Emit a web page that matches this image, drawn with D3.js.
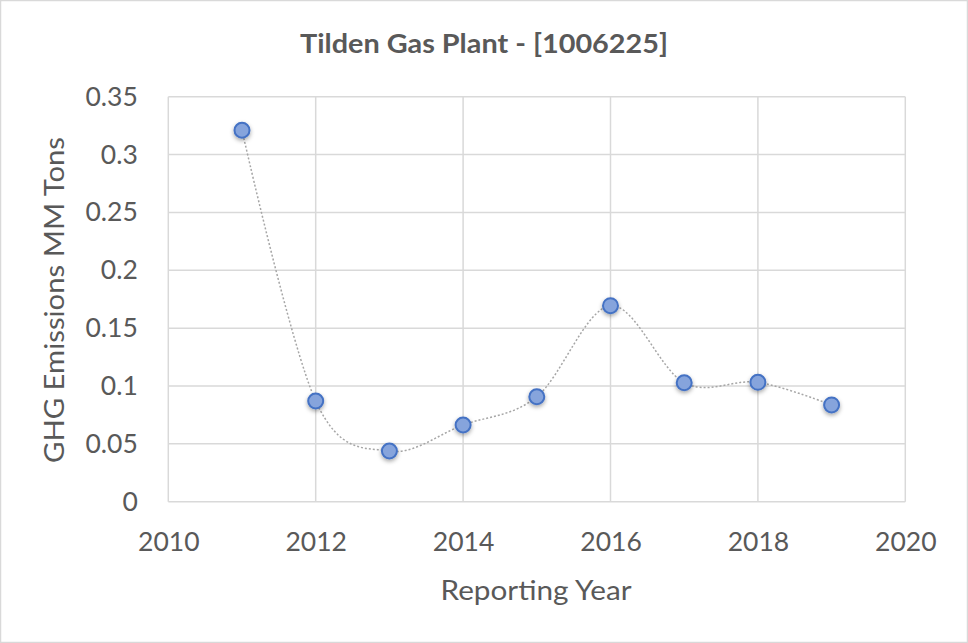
<!DOCTYPE html>
<html><head><meta charset="utf-8">
<script src="https://cdn.jsdelivr.net/npm/d3@7"></script>
<style>body{margin:0;background:#fff;} svg{display:block;}</style>
</head><body>
<svg id="c" width="968" height="643"></svg>
<script>
const years = [2011, 2012, 2013, 2014, 2015, 2016, 2017, 2018, 2019];
const emissions = [0.321, 0.087, 0.0438, 0.0663, 0.0907, 0.1694, 0.1028, 0.1032, 0.0836];
const xTicks = [2010, 2012, 2014, 2016, 2018, 2020];
const yTicks = [0, 0.05, 0.1, 0.15, 0.2, 0.25, 0.3, 0.35];
const title = "Tilden Gas Plant - [1006225]";
const xTitle = "Reporting Year";
const yTitle = "GHG Emissions MM Tons";

const W = 968, H = 643;
const m = {left: 168.3, right: 905.3, top: 96.7, bottom: 501.7};
const svg = d3.select("#c");
const font = "Lato, 'Open Sans', sans-serif";
const textCol = "#595959", gridCol = "#d9d9d9";

svg.append("rect").attr("x", 0.5).attr("y", 0.5).attr("width", W - 1).attr("height", H - 1)
  .attr("fill", "#fff").attr("stroke", "#d9d9d9").attr("stroke-width", 1.5);

const x = d3.scaleLinear().domain([2010, 2020]).range([m.left, m.right]);
const y = d3.scaleLinear().domain([0, 0.35]).range([m.bottom, m.top]);

const defs = svg.append("defs");
const f = defs.append("filter").attr("id", "sh").attr("x", "-50%").attr("y", "-50%").attr("width", "200%").attr("height", "200%");
f.append("feDropShadow").attr("dx", 0).attr("dy", 2).attr("stdDeviation", 2).attr("flood-color", "#000").attr("flood-opacity", 0.35);

// gridlines
const g = svg.append("g");
g.selectAll(".h").data(yTicks).join("line")
  .attr("x1", m.left).attr("x2", m.right).attr("y1", d => y(d)).attr("y2", d => y(d))
  .attr("stroke", gridCol).attr("stroke-width", 1.5);
g.selectAll(".v").data(xTicks).join("line")
  .attr("y1", m.top).attr("y2", m.bottom).attr("x1", d => x(d)).attr("x2", d => x(d))
  .attr("stroke", gridCol).attr("stroke-width", 1.5);

// axes labels via d3 axes
const yAxis = svg.append("g").attr("transform", `translate(${m.left},0)`)
  .call(d3.axisLeft(y).tickValues(yTicks).tickSize(0).tickPadding(30.5).tickFormat(d => d3.format("")(+d.toFixed(2))));
yAxis.select(".domain").remove();
yAxis.selectAll("text").attr("font-family", font).attr("font-size", 26.5).attr("fill", textCol);

const xAxis = svg.append("g").attr("transform", `translate(0,${m.bottom})`)
  .call(d3.axisBottom(x).tickValues(xTicks).tickSize(0).tickPadding(30).tickFormat(d3.format("d")));
xAxis.select(".domain").remove();
xAxis.selectAll("text").attr("font-family", font).attr("font-size", 26.5).attr("fill", textCol);

// line
const pts = years.map((yr, i) => [yr, emissions[i]]);
const line = d3.line().x(d => x(d[0])).y(d => y(d[1])).curve(d3.curveCatmullRom.alpha(0));
svg.append("path").attr("d", line(pts)).attr("fill", "none")
  .attr("stroke", "#a6a6a6").attr("stroke-width", 1.5).attr("stroke-dasharray", "2,2");

svg.append("g").selectAll("circle").data(pts).join("circle")
  .attr("cx", d => x(d[0])).attr("cy", d => y(d[1])).attr("r", 7.5)
  .attr("fill", "#86a4dc").attr("stroke", "#4472c4").attr("stroke-width", 2)
  .attr("filter", "url(#sh)");

// titles
svg.append("text").attr("x", 484).attr("y", 53).attr("text-anchor", "middle")
  .attr("font-family", font).attr("font-weight", "bold").attr("font-size", 27).attr("fill", textCol)
  .attr("textLength", 368).attr("lengthAdjust", "spacingAndGlyphs").text(title);
svg.append("text").attr("x", 536).attr("y", 600).attr("text-anchor", "middle")
  .attr("font-family", font).attr("font-size", 27).attr("fill", textCol)
  .attr("textLength", 191).attr("lengthAdjust", "spacingAndGlyphs").text(xTitle);
svg.append("text").attr("transform", `translate(64,300) rotate(-90)`).attr("text-anchor", "middle")
  .attr("font-family", font).attr("font-size", 27).attr("fill", textCol)
  .attr("textLength", 326).attr("lengthAdjust", "spacingAndGlyphs").text(yTitle);
</script>
</body></html>
